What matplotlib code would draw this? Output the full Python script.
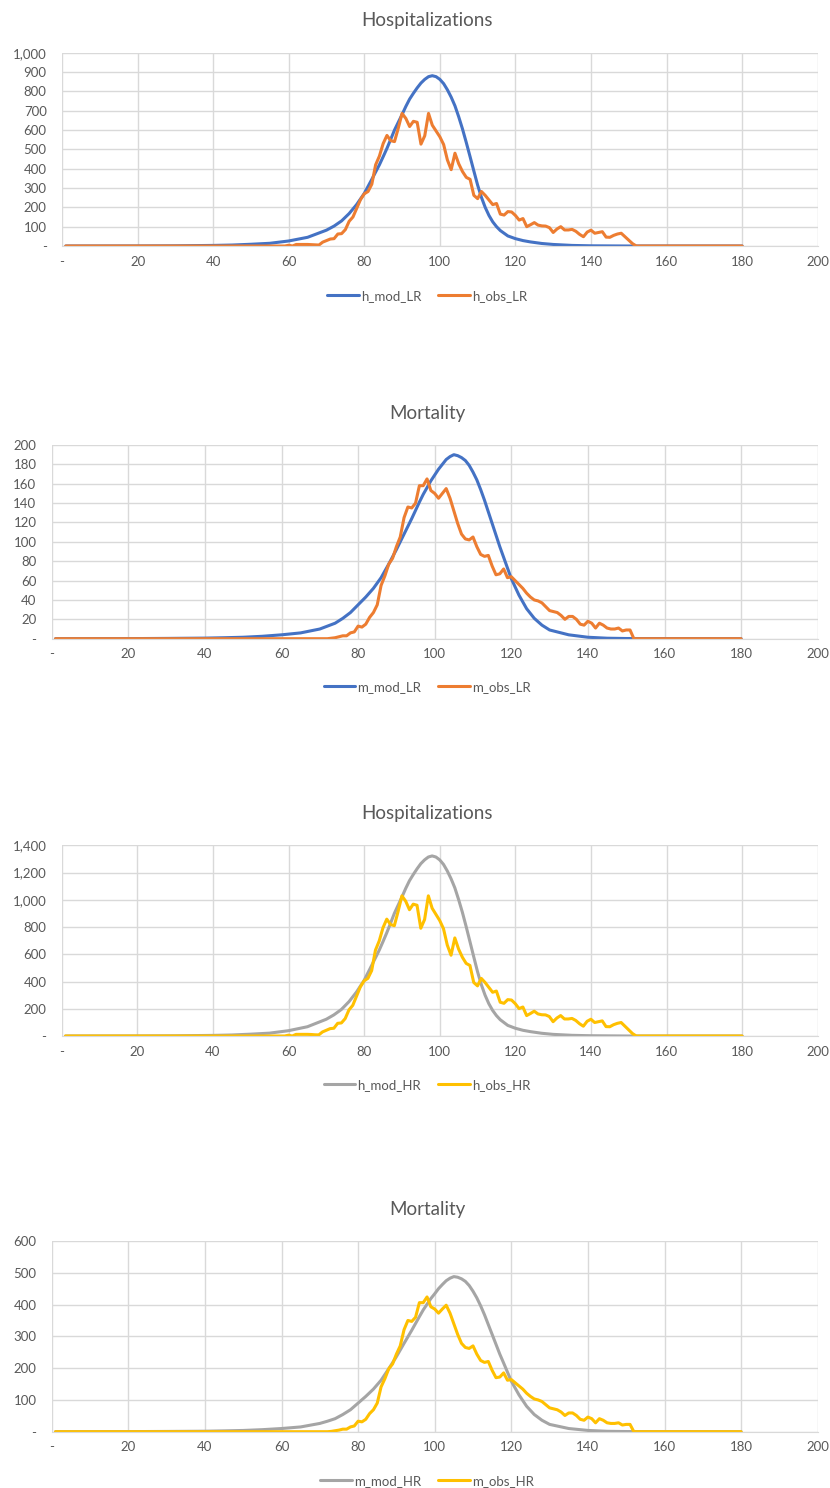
import numpy as np
import matplotlib.pyplot as plt
from matplotlib.ticker import FuncFormatter

plt.rcParams['font.family'] = ['Lato', 'DejaVu Sans']

TEXT = '#595959'
GRID = '#D9D9D9'

# daily series run from day 1 to day 180
days = np.arange(1, 181)

# observed hospitalizations, low-risk group (days 55..152, zero elsewhere)
h_obs_lr_start = 55
h_obs_lr = [0, 0, 0, 0, 0, 4, 0, 8, 8, 8, 8, 7, 6, 5, 20, 28, 36, 38, 62, 64,
            85, 128, 150, 195, 240, 270, 282, 320, 420, 465, 530, 572, 545, 540, 610,
            686, 660, 618, 645, 640, 527, 570, 686, 625, 595, 565, 525, 445, 395, 480,
            425, 385, 355, 345, 262, 245, 282, 262, 238, 214, 220, 165, 160, 178, 176,
            158, 134, 142, 100, 110, 121, 108, 104, 103, 95, 70, 88, 100, 83, 83,
            86, 76, 60, 48, 72, 82, 66, 70, 74, 46, 45, 55, 62, 66, 48, 30, 12, 0]

# observed hospitalizations, high-risk group
h_obs_hr_start = 55
h_obs_hr = [0, 0, 0, 0, 0, 6, 0, 12, 12, 12, 12, 11, 9, 8, 30, 42, 54, 57, 93, 96,
            128, 192, 225, 293, 360, 405, 423, 480, 630, 698, 795, 858, 818, 810, 915,
            1029, 990, 927, 968, 960, 791, 855, 1029, 938, 893, 848, 788, 668, 593, 720,
            638, 578, 533, 518, 393, 368, 423, 393, 357, 321, 330, 248, 240, 267, 264,
            237, 201, 213, 150, 165, 182, 162, 156, 155, 143, 105, 132, 150, 125, 125,
            129, 114, 90, 72, 108, 123, 99, 105, 111, 69, 68, 83, 93, 99, 72, 45, 18, 0]

# observed mortality, low-risk group (days 70..152)
m_obs_lr_start = 70
m_obs_lr = [0, 0, 0, 0.5, 1, 2, 3, 3, 6, 7, 13, 12, 15, 22, 27, 35, 55, 65, 77, 83,
            95, 105, 125, 136, 135, 140, 158, 158, 165, 153, 150, 145, 150, 155, 145,
            132, 119, 108, 103, 102, 105, 95, 87, 85, 86, 75, 66, 67, 72, 63,
            64, 60, 56, 52, 47, 43, 40, 39, 37, 33, 29, 28, 27, 24, 20,
            23, 23, 20, 15, 14, 18, 16, 11, 16, 14, 11, 10, 10, 11, 8, 9, 9, 0]

# observed mortality, high-risk group
m_obs_hr_start = 70
m_obs_hr = [0, 0, 0, 1, 3, 5, 8, 8, 15, 18, 33, 31, 39, 57, 69, 90, 141, 167, 198, 213,
            244, 270, 321, 350, 347, 360, 406, 406, 424, 393, 386, 373, 386, 398, 373,
            339, 306, 278, 265, 262, 270, 244, 224, 218, 221, 193, 170, 172, 185, 162,
            164, 154, 144, 134, 121, 111, 103, 100, 95, 85, 75, 72, 69, 62, 51,
            59, 59, 51, 39, 36, 46, 41, 28, 41, 36, 28, 26, 26, 28, 21, 23, 23, 0]

# model curves: coarse in the tails, daily around the peak
h_mod_days = ([1, 20, 30, 40, 45, 50, 55, 60, 65, 70, 72, 74, 76, 78, 80, 82]
              + list(range(84, 117))
              + [118, 120, 122, 124, 127, 130, 135, 140, 150, 180])
h_mod_lr = [0, 0.3, 1, 3, 5, 9, 14, 26, 45, 82, 103, 130, 168, 215, 272, 345,
            420, 462, 505, 552, 600, 640, 680, 722, 760, 790, 818, 843, 862, 876, 881,
            876, 862, 840, 808, 770, 725, 668, 605, 535, 462, 388, 315, 252, 200, 158,
            125, 100, 80,
            52, 38, 28, 21, 13, 8, 3, 1, 0, 0]
h_mod_hr = [0, 0.5, 1.5, 4.5, 7.5, 13.5, 21, 39, 68, 123, 155, 195, 252, 323, 408, 518,
            630, 693, 758, 828, 900, 960, 1020, 1083, 1140, 1185, 1227, 1265, 1293, 1314,
            1322, 1314, 1293, 1260, 1212, 1155, 1088, 1002, 908, 803, 693, 582, 473, 378,
            300, 237, 188, 150, 120,
            78, 57, 42, 32, 20, 12, 5, 2, 0, 0]

m_mod_days = ([1, 20, 30, 40, 45, 50, 55, 60, 65, 70, 72, 74, 76, 78, 80, 82, 84, 86,
               88, 90, 92, 94]
              + list(range(96, 119))
              + [120, 122, 124, 126, 128, 130, 135, 140, 145, 150, 180])
m_mod_lr = [0, 0.1, 0.3, 0.6, 1, 1.5, 2.5, 4, 6, 10, 13, 16, 21, 27, 35, 43, 52, 63,
            77, 92, 108, 124,
            141, 149, 156, 163, 169, 175, 180, 185, 188, 190, 189, 187, 184, 179, 172,
            164, 154, 143, 131, 119, 107, 95, 84,
            62, 45, 31, 21, 14, 9, 4, 1.5, 0.5, 0.2, 0]
m_mod_hr = [0, 0.3, 0.8, 1.5, 2.6, 3.9, 6.4, 10, 15, 26, 33, 41, 54, 69, 90, 111, 134,
            162, 198, 236, 278, 319,
            362, 383, 401, 419, 434, 450, 463, 475, 483, 488, 486, 481, 473, 460, 442,
            421, 396, 368, 337, 306, 275, 244, 216,
            159, 116, 80, 54, 36, 23, 10, 4, 1.3, 0.5, 0]


def daily(vals, start):
    full = np.zeros(len(days))
    full[start - 1:start - 1 + len(vals)] = vals
    return full


def num_fmt(v, pos):
    if v == 0:
        return '-'
    return f'{v:,.0f}'


W, H = 830, 1488
fig = plt.figure(figsize=(W / 100, H / 100), dpi=100)

# (title, left, top, bottom, ymax, ystep, mod, obs, mod colour, obs colour, labels, legend y)
panels = [
    ('Hospitalizations', 62, 52.7, 246, 1000, 100,
     (h_mod_days, h_mod_lr), daily(h_obs_lr, h_obs_lr_start),
     '#4472C4', '#ED7D31', ('h_mod_LR', 'h_obs_LR'), 296),
    ('Mortality', 51.7, 445, 638.7, 200, 20,
     (m_mod_days, m_mod_lr), daily(m_obs_lr, m_obs_lr_start),
     '#4472C4', '#ED7D31', ('m_mod_LR', 'm_obs_LR'), 687),
    ('Hospitalizations', 61.7, 845.3, 1036, 1400, 200,
     (h_mod_days, h_mod_hr), daily(h_obs_hr, h_obs_hr_start),
     '#A5A5A5', '#FFC000', ('h_mod_HR', 'h_obs_HR'), 1085),
    ('Mortality', 51.7, 1241, 1431.7, 600, 100,
     (m_mod_days, m_mod_hr), daily(m_obs_hr, m_obs_hr_start),
     '#A5A5A5', '#FFC000', ('m_mod_HR', 'm_obs_HR'), 1481),
]

right = 817.7
for title, left, top, bottom, ymax, ystep, mod, obs, c_mod, c_obs, labels, leg_y in panels:
    ax = fig.add_axes([left / W, 1 - bottom / H, (right - left) / W, (bottom - top) / H])
    l1, = ax.plot(mod[0], mod[1], color=c_mod, lw=2.2,
                  solid_capstyle='round', solid_joinstyle='round')
    l2, = ax.plot(days, obs, color=c_obs, lw=2.2,
                  solid_capstyle='round', solid_joinstyle='round')

    ax.set_xlim(0, 200)
    ax.set_ylim(0, ymax)
    ax.set_xticks(np.arange(0, 201, 20))
    ax.set_yticks(np.arange(0, ymax + 1, ystep))
    ax.xaxis.set_major_formatter(FuncFormatter(num_fmt))
    ax.yaxis.set_major_formatter(FuncFormatter(num_fmt))
    ax.tick_params(length=0, labelsize=9.5, labelcolor=TEXT)
    ax.tick_params(axis='x', pad=7)
    ax.tick_params(axis='y', pad=11)
    ax.grid(True, color=GRID, lw=1)
    ax.set_axisbelow(True)
    for side in ['top', 'left', 'right']:
        ax.spines[side].set_visible(False)
    ax.spines['bottom'].set_color(GRID)

    fig.text(427 / W, 1 - (top - 32) / H, title, ha='center', va='center',
             fontsize=13.5, color=TEXT)
    fig.legend([l1, l2], labels, loc='center', bbox_to_anchor=(427 / W, 1 - leg_y / H),
               ncol=2, frameon=False, fontsize=9.5, labelcolor=TEXT,
               handlelength=2.4, handletextpad=0.15, columnspacing=1.3)

fig.savefig('out.png', dpi=100)
